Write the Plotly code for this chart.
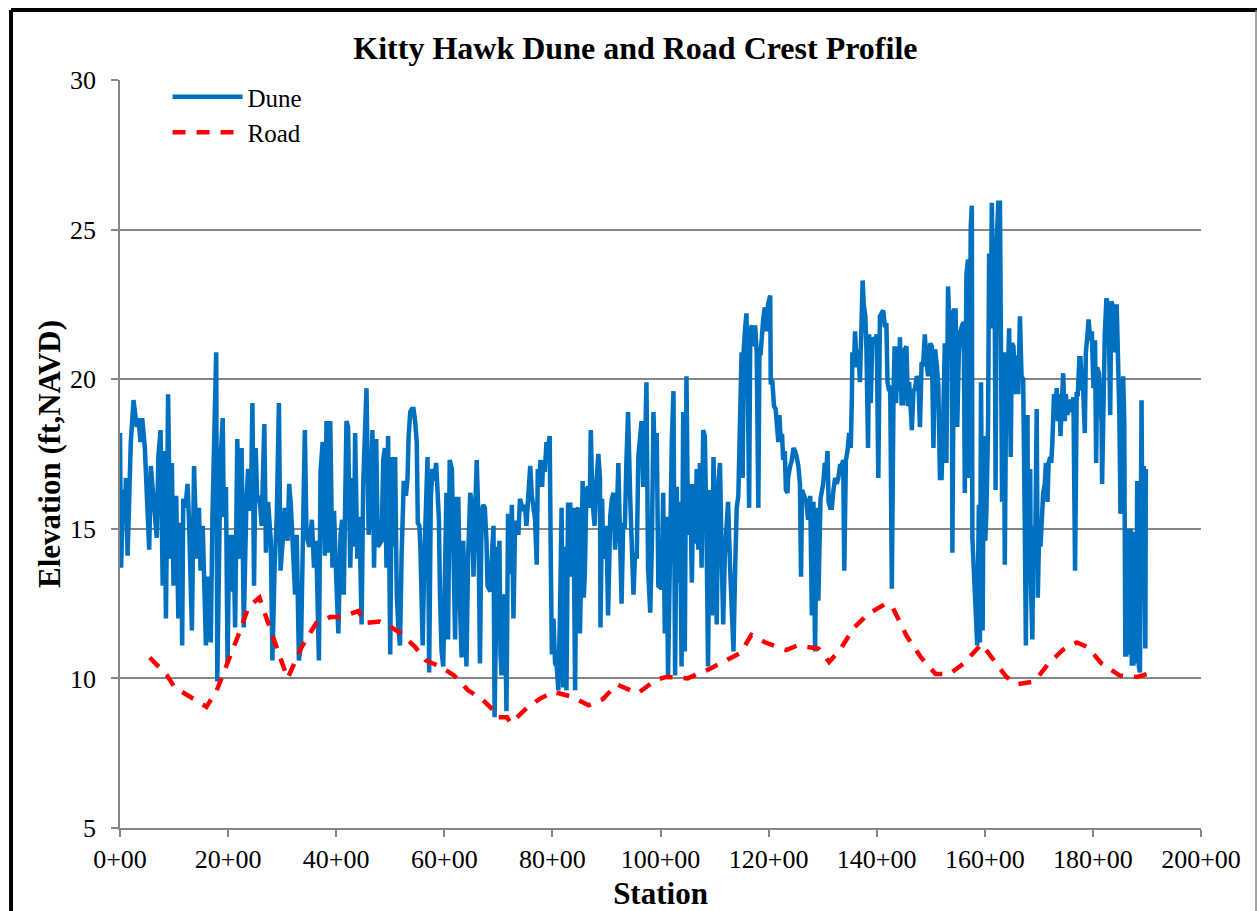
import plotly.graph_objects as go

# station in hundreds of feet, elevation in ft NAVD
dune_station = [
    0.0, 0.2, 0.6, 0.9, 1.1, 1.4, 2.0, 2.5, 3.1, 3.4, 3.8, 4.1, 4.6, 4.9, 5.4, 5.7, 6.0, 6.3, 6.8, 7.1,
    7.5, 7.9, 8.2, 8.5, 8.9, 9.3, 9.6, 9.9, 10.4, 10.8, 11.3, 11.5, 11.7, 12.1, 12.5, 12.8, 13.3, 13.7, 14.2, 14.6,
    14.9, 15.3, 15.9, 16.3, 16.8, 17.1, 17.5, 17.8, 18.0, 18.3, 18.6, 19.0, 19.2, 19.6, 19.9, 20.2, 20.7, 21.0, 21.3, 21.7,
    22.1, 22.5, 22.9, 23.4, 23.7, 24.2, 24.5, 24.8, 25.1, 25.4, 25.8, 26.2, 26.7, 27.0, 27.4, 27.9, 28.2, 28.6, 29.0, 29.4,
    29.7, 30.1, 30.5, 31.0, 31.3, 31.6, 32.1, 32.4, 32.7, 33.1, 33.5, 33.8, 34.2, 34.5, 35.0, 35.5, 35.9, 36.3, 36.8, 37.1,
    37.5, 37.9, 38.2, 38.6, 38.9, 39.3, 39.6, 40.0, 40.4, 40.8, 41.1, 41.4, 41.9, 42.2, 42.6, 43.0, 43.3, 43.5, 43.9, 44.3,
    44.7, 45.0, 45.6, 46.0, 46.4, 46.7, 47.0, 47.4, 47.7,
    48.4, 48.7, 49.0, 49.3, 49.6, 50.0, 50.3, 50.6, 50.9, 51.2, 51.5, 51.8, 52.1, 52.3, 52.5, 52.9, 53.2, 53.4, 53.7, 54.0,
    54.3, 54.6, 54.9, 55.1, 55.4, 55.6, 56.0, 56.3, 56.6, 56.9, 57.2, 57.5, 57.8, 58.1, 58.5, 58.7, 59.0, 59.2, 59.5, 59.8,
    60.1, 60.4, 60.7, 61.0, 61.4, 61.7, 62.0, 62.3, 62.6, 62.9, 63.2, 63.5, 63.8, 64.1, 64.4, 64.8, 65.1, 65.4, 65.7, 66.0,
    66.3, 66.6, 66.9, 67.2, 67.5, 67.8, 68.0, 68.5, 68.8, 69.1, 69.3, 69.6, 69.8, 70.0, 70.2, 70.4, 70.6, 70.9, 71.2, 71.5,
    71.8, 72.2, 72.5, 72.8, 73.1, 73.4, 73.7, 74.0, 74.3, 74.6, 74.9, 75.2, 75.5, 75.9, 76.2, 76.5, 76.8, 77.1, 77.3, 77.6,
    77.8, 78.1, 78.3, 78.6, 78.9, 79.2, 79.5, 79.7, 79.9, 80.2, 80.5, 80.8, 81.1, 81.4, 81.7, 82.0, 82.3, 82.6, 82.9, 83.3,
    83.6, 83.9, 84.2, 84.5, 84.8, 85.1, 85.4, 85.6, 85.8, 86.0, 86.3, 86.6, 86.9, 87.1, 87.4, 87.8, 88.1, 88.3, 88.5, 88.8,
    88.9, 89.2, 89.4, 89.7, 90.0, 90.3, 90.7, 91.0, 91.3, 91.6, 91.9, 92.2, 92.5, 92.8, 93.1, 93.4, 93.7, 94.0, 94.4, 94.7,
    95.0, 95.3, 95.6, 95.9, 96.2, 96.5, 96.8, 97.1, 97.4, 97.7, 98.1, 98.4, 98.7, 99.0, 99.3, 99.6,
    100.2, 100.5, 100.8, 101.1, 101.4, 101.8, 102.1, 102.4, 102.7, 103.0, 103.3, 103.6, 103.9, 104.2, 104.5, 104.8, 105.1, 105.5, 105.8, 106.1,
    106.4, 106.7, 107.0, 107.3, 107.6, 107.9, 108.2, 108.5, 108.8, 109.1, 109.5, 109.8, 110.1, 110.4, 110.7, 111.0, 111.3, 111.6, 111.9, 112.2,
    112.5, 112.9, 113.2, 113.5, 113.8, 114.1, 114.4, 114.6, 114.8, 115.0, 115.2, 115.4, 115.7, 115.9, 116.1, 116.4, 116.6, 116.9, 117.2, 117.5,
    117.8, 118.1, 118.3, 118.5, 119.0, 119.3, 119.6, 119.9, 120.3, 120.4, 120.7, 121.0, 121.3, 121.5, 121.8, 122.0, 122.2, 122.5, 122.7, 123.0,
    123.2, 123.5, 123.6, 124.0, 124.3, 124.6, 124.9, 125.2, 125.5, 125.8, 126.0, 126.2, 126.7, 127.0, 127.3, 127.7, 128.0, 128.3, 128.6, 128.9,
    129.2, 129.4, 129.6, 129.9, 130.1, 130.4, 130.6, 130.9, 131.1, 131.4, 131.7, 132.0, 132.3, 132.6, 132.9, 133.2, 133.5, 133.8, 134.0, 134.3,
    134.6, 134.9, 135.2, 135.4, 135.5, 135.8, 136.0, 136.3, 136.6, 136.9, 137.1, 137.4, 137.6, 137.9, 138.1, 138.4, 138.6, 138.9, 139.2, 139.5,
    139.7, 140.0, 140.3, 140.6, 140.9, 141.2, 141.5, 141.8, 142.0, 142.3, 142.5, 142.8, 143.1, 143.3, 143.6, 143.8, 144.1, 144.3, 144.6, 144.9,
    145.2, 145.5, 145.8, 146.0, 146.3, 146.5, 146.8, 147.1, 147.4, 147.7, 148.0, 148.3, 148.6, 148.9, 149.2, 149.5, 149.9, 150.2, 150.5, 150.8,
    151.1, 151.4, 151.7,
    152.0, 152.3, 152.6, 152.9, 153.2, 153.6, 153.9, 154.0, 154.3, 154.6, 154.9, 155.2, 155.5, 155.8, 156.1, 156.3, 156.6, 156.9, 157.1, 157.4,
    157.6, 157.7, 158.0, 158.4, 158.6, 158.9, 159.1, 159.3, 159.6, 159.8, 160.1, 160.3, 160.6, 160.8, 161.1, 161.3, 161.6, 161.8, 162.0, 162.2,
    162.5, 162.8, 163.0, 163.2, 163.5, 163.7, 164.0, 164.3, 164.5, 164.8, 165.0, 165.3, 165.6, 165.9, 166.2, 166.5, 166.8, 167.1, 167.4, 167.6,
    167.9, 168.0, 168.4, 168.5, 168.8, 169.0, 169.3, 169.6, 169.8, 170.1, 170.3, 170.6, 170.8, 171.1, 171.3, 171.6, 171.8, 172.1, 172.3, 172.5,
    172.8, 173.0, 173.3, 173.5, 173.8, 174.0, 174.3, 174.5, 174.8, 175.0, 175.3, 175.5, 175.8, 176.1, 176.4, 176.7, 177.0, 177.2, 177.5, 177.7,
    178.0, 178.2, 178.5, 178.7, 179.0, 179.2, 179.5, 179.8, 180.1, 180.4, 180.6, 180.8, 181.1, 181.3, 181.6, 181.7, 182.0, 182.2, 182.5, 182.8,
    183.0, 183.2, 183.4, 183.6, 183.9, 184.1, 184.4, 184.6, 184.9, 185.1, 185.3, 185.6, 185.8, 186.0, 186.2, 186.5, 186.7, 187.0, 187.2, 187.5,
    187.7, 188.0, 188.2, 188.5, 188.7, 189.0, 189.2, 189.4, 189.7, 189.8,
]
dune_elev = [
    18.2, 13.7, 16.3, 15.6, 16.7, 14.1, 17.9, 19.3, 18.4, 18.7, 17.9, 18.7, 17.7, 16.4, 14.3, 17.1, 16.4, 15.5, 14.7, 17.4,
    18.3, 13.1, 17.6, 12.0, 19.5, 14.0, 17.2, 13.1, 16.1, 12.0, 15.2, 11.1, 16.0, 15.7, 16.5, 15.1, 11.6, 17.1, 14.0, 15.7,
    13.6, 15.1, 11.1, 13.4, 11.2, 15.4, 19.1, 20.9, 9.9, 13.4, 17.3, 18.7, 15.4, 16.4, 10.5, 14.8, 12.9, 14.8, 11.7, 18.0,
    14.0, 17.7, 11.7, 16.0, 17.0, 15.6, 19.2, 13.1, 17.7, 15.9, 16.1, 15.1, 18.5, 14.2, 15.9, 14.6, 10.6, 13.7, 15.4, 19.2,
    13.6, 14.6, 15.7, 14.6, 16.5, 15.8, 14.0, 12.8, 14.8, 10.6, 11.2, 13.8, 18.3, 14.8, 14.4, 15.3, 13.7, 14.6, 10.6, 16.9,
    17.9, 14.1, 18.6, 14.2, 18.6, 13.7, 15.6, 13.4, 11.5, 14.8, 15.3, 12.8, 18.6, 18.4, 13.7, 16.7, 14.4, 18.2, 14.0, 15.4,
    11.8, 16.5, 19.7, 14.8, 15.8, 18.3, 13.7, 18.0, 14.4,
    14.6, 17.3, 17.7, 13.7, 18.1, 10.8, 17.4, 14.4, 17.4, 12.8, 11.7, 11.1, 14.1, 16.0, 16.6, 16.1, 16.7, 18.1, 18.9, 19.0,
    19.0, 18.6, 17.9, 15.2, 15.1, 14.2, 11.1, 14.0, 16.0, 17.4, 10.2, 16.0, 17.0, 16.6, 17.2, 16.4, 15.3, 12.8, 10.9, 10.4,
    13.5, 16.2, 11.3, 17.3, 17.0, 13.4, 11.3, 16.0, 16.0, 12.4, 10.7, 14.6, 12.4, 10.4, 14.0, 16.2, 15.8, 13.4, 15.5, 17.3,
    15.4, 10.5, 15.5, 15.8, 15.7, 14.6, 13.1, 12.9, 14.1, 15.1, 8.7, 14.4, 14.4, 12.4, 14.6, 10.8, 10.1, 12.6, 12.8, 8.9,
    15.5, 13.5, 15.8, 12.0, 15.2, 15.2, 14.8, 16.0, 15.7, 15.6, 15.8, 15.1, 16.0, 17.1, 16.1, 15.7, 15.3, 13.8, 17.0, 16.6,
    17.3, 16.4, 17.3, 16.9, 17.9, 17.7, 18.1, 14.0, 10.8, 12.0, 10.5, 10.4, 9.6, 12.1, 15.7, 9.7, 14.4, 9.6, 15.8, 15.8,
    13.4, 15.7, 9.6, 15.6, 15.7, 11.5, 14.8, 16.6, 12.7, 13.5, 16.3, 16.4, 15.7, 18.3, 16.0, 15.1, 16.4, 17.1, 17.5, 16.7,
    11.7, 16.0, 14.0, 14.6, 15.1, 12.1, 15.4, 16.0, 16.2, 14.3, 15.3, 17.2, 14.3, 12.5, 15.2, 15.0, 17.3, 18.9, 16.0, 14.0,
    12.8, 14.2, 14.0, 17.4, 18.2, 18.6, 16.4, 17.3, 19.9, 13.7, 12.2, 14.4, 18.9, 16.9, 18.2, 13.1,
    13.0, 16.2, 11.5, 15.4, 10.1, 15.4, 18.0, 19.6, 10.1, 16.4, 13.2, 15.9, 10.4, 18.9, 10.9, 20.1, 14.8, 16.5, 13.2, 16.5,
    14.5, 17.0, 14.3, 17.2, 13.7, 18.3, 18.1, 15.1, 10.4, 16.3, 12.1, 17.4, 14.1, 11.8, 16.5, 17.2, 14.3, 11.8, 14.1, 15.4,
    15.9, 13.6, 12.3, 10.9, 13.6, 15.7, 16.1, 17.9, 20.3, 20.9, 16.7, 21.0, 21.8, 22.2, 20.6, 15.7, 21.6, 21.8, 21.1, 21.8,
    20.9, 15.7, 20.9, 20.8, 22.0, 22.4, 21.6, 22.5, 22.8, 19.9, 19.9, 19.1, 19.0, 18.5, 17.9, 18.8, 18.1, 18.1, 17.3, 17.6,
    16.3, 16.2, 16.7, 17.1, 17.3, 17.7, 17.6, 17.4, 17.1, 16.5, 13.4, 16.3, 16.1, 15.9, 15.3, 16.1, 12.1, 15.9, 10.9, 15.7,
    12.6, 15.6, 16.0, 16.3, 16.5, 17.2, 16.7, 17.6, 15.9, 15.7, 15.7, 16.3, 16.7, 16.5, 16.7, 17.1, 17.1, 17.3, 13.6, 17.3,
    17.6, 18.2, 17.7, 19.3, 20.9, 20.5, 21.6, 20.4, 21.0, 19.9, 22.0, 23.3, 22.5, 22.1, 21.0, 17.7, 21.5, 19.2, 21.4, 21.3,
    21.2, 21.5, 16.7, 22.1, 22.2, 22.3, 21.8, 21.8, 19.9, 19.6, 19.8, 13.0, 19.3, 21.1, 19.2, 21.1, 19.6, 21.4, 19.2, 19.2,
    21.0, 21.1, 19.1, 19.9, 19.0, 18.3, 19.6, 19.7, 20.1, 20.0, 18.4, 20.5, 20.5, 21.5, 20.6, 20.1, 21.2, 21.1, 17.7, 21.0,
    20.5, 19.8, 16.7,
    16.7, 18.6, 21.2, 17.2, 23.1, 21.1, 22.3, 14.2, 22.3, 22.3, 18.4, 20.9, 21.6, 21.8, 21.9, 16.2, 23.5, 24.0, 16.7, 25.1,
    25.8, 14.7, 13.4, 12.1, 11.1, 15.8, 11.2, 19.9, 11.6, 18.1, 14.6, 15.6, 18.4, 24.2, 21.7, 25.9, 21.8, 24.1, 16.3, 24.6,
    25.9, 25.9, 21.0, 15.9, 20.9, 13.8, 20.9, 20.4, 21.7, 17.4, 21.2, 21.1, 19.5, 20.8, 19.5, 22.1, 20.1, 20.0, 15.1, 11.1,
    18.8, 13.4, 17.0, 13.4, 11.3, 15.1, 14.0, 19.0, 12.7, 15.3, 14.4, 15.9, 16.2, 16.5, 17.2, 15.9, 17.2, 17.4, 17.2, 17.9,
    19.5, 18.8, 19.7, 18.6, 19.5, 18.1, 19.3, 20.2, 18.6, 19.5, 18.8, 19.3, 19.2, 18.9, 19.4, 13.6, 19.5, 19.5, 20.7, 20.7,
    19.7, 19.7, 18.2, 20.9, 21.5, 22.0, 21.3, 21.6, 19.7, 21.3, 17.2, 20.4, 20.2, 19.7, 18.6, 16.5, 19.7, 21.5, 22.7, 22.5,
    21.2, 18.8, 22.6, 22.5, 20.9, 21.1, 22.5, 21.3, 18.8, 15.5, 16.6, 20.1, 18.6, 10.8, 10.8, 15.0, 10.8, 15.0, 10.5, 10.5,
    14.9, 10.5, 16.6, 10.4, 10.2, 19.3, 13.3, 17.1, 11.0, 17.0,
]

road_station = [
    5.5, 8.7, 10.1, 12.7, 16.0, 17.9, 19.9, 21.8, 23.8, 25.8, 27.7, 29.7, 31.0, 33.6, 36.3, 38.9, 40.8, 44.1, 45.4, 48.0,
    49.4, 52.0, 54.6, 56.6, 59.2, 61.8, 64.4, 67.0, 69.0, 69.7, 71.6, 72.3, 74.9, 77.5, 80.1, 83.4, 86.7, 89.3, 91.9, 95.8,
    99.1, 101.1, 105.0, 108.9, 112.9, 114.8, 116.8, 119.4, 123.3, 125.3, 129.2, 131.2, 133.2, 135.8, 138.4, 141.7, 143.0, 145.6, 148.2, 150.9,
    153.5, 156.1, 159.4, 161.3, 164.0, 165.9, 169.2, 171.8, 174.4, 177.0, 179.0, 181.6, 184.9, 188.2, 190.1,
]
road_elev = [
    10.7, 10.1, 9.7, 9.4, 9.05, 9.6, 10.5, 11.4, 12.4, 12.7, 11.7, 10.7, 10.0, 11.05, 11.85, 12.05, 12.05, 12.25, 11.85, 11.9,
    11.8, 11.5, 11.05, 10.6, 10.4, 10.1, 9.6, 9.3, 8.95, 8.7, 8.7, 8.5, 8.95, 9.3, 9.55, 9.4, 9.1, 9.3, 9.8, 9.5,
    9.95, 10.05, 10.0, 10.3, 10.65, 10.85, 11.45, 11.2, 10.95, 11.1, 11.0, 10.55, 10.95, 11.7, 12.15, 12.5, 12.35, 11.4, 10.7, 10.15,
    10.15, 10.5, 11.15, 10.7, 10.05, 9.8, 9.9, 10.5, 10.95, 11.2, 11.05, 10.5, 10.1, 10.05, 10.15,
]

tick_vals = [0, 20, 40, 60, 80, 100, 120, 140, 160, 180, 200]
tick_text = ["0+00", "20+00", "40+00", "60+00", "80+00", "100+00",
             "120+00", "140+00", "160+00", "180+00", "200+00"]

serif = "Liberation Serif, Times New Roman, serif"
grey = "#868686"

fig = go.Figure()
fig.add_trace(go.Scatter(x=dune_station, y=dune_elev, mode="lines", name="Dune",
                         line={"color": "#0070C0", "width": 4.5}))
fig.add_trace(go.Scatter(x=road_station, y=road_elev, mode="lines", name="Road",
                         line={"color": "#FF0000", "width": 4.5, "dash": "13px,11px"}))

# chart frame: thick black left/top, thin grey right
fig.add_shape(type="line", xref="paper", yref="paper", x0=-0.1008, x1=-0.1008, y0=-0.15, y1=1.0936,
              line={"color": "black", "width": 4})
fig.add_shape(type="line", xref="paper", yref="paper", x0=-0.1008, x1=1.06, y0=1.0936, y1=1.0936,
              line={"color": "black", "width": 4})
fig.add_shape(type="line", xref="paper", yref="paper", x0=1.0509, x1=1.0509, y0=-0.15, y1=1.0936,
              line={"color": grey, "width": 1.5})

fig.update_layout(
    width=1257, height=911,
    margin={"l": 120, "r": 56, "t": 80, "b": 83, "autoexpand": False},
    paper_bgcolor="white", plot_bgcolor="white",
    font={"family": serif, "size": 26, "color": "black"},
    title={"text": "<b>Kitty Hawk Dune and Road Crest Profile</b>", "font": {"size": 32},
           "xref": "container", "yref": "container", "x": 0.5055, "y": 0.947,
           "xanchor": "center", "yanchor": "middle"},
    showlegend=True,
    legend={"x": 0.044, "y": 1.008, "xanchor": "left", "yanchor": "top", "itemwidth": 70,
            "bgcolor": "rgba(0,0,0,0)", "font": {"size": 25}, "tracegroupgap": 0},
    xaxis={"range": [0, 200], "tickvals": tick_vals, "ticktext": tick_text, "automargin": False,
           "showgrid": False, "zeroline": False, "showline": True, "linecolor": grey, "linewidth": 1.5,
           "ticks": "outside", "ticklen": 7, "tickcolor": grey, "tickwidth": 1.5,
           "title": {"text": "<b>Station</b>", "standoff": 10}},
    yaxis={"range": [5, 30], "dtick": 5, "showgrid": True, "gridcolor": grey, "gridwidth": 1.5,
           "zeroline": False, "showline": True, "linecolor": grey, "linewidth": 1.5, "automargin": False,
           "ticks": "outside", "ticklen": 7, "tickcolor": grey, "tickwidth": 1.5, "ticklabelstandoff": 10,
           "title": {"text": "<b>Elevation (ft,NAVD)</b>", "standoff": 0}},
)

fig.write_html("out.html", config={"displayModeBar": False},
               post_script="document.body.style.margin='0';")
